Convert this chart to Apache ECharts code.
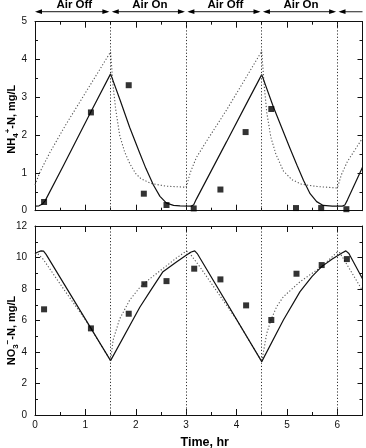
<!DOCTYPE html>
<html><head><meta charset="utf-8">
<script src="https://cdn.jsdelivr.net/npm/echarts@6/dist/echarts.min.js"></script>
<style>html,body{margin:0;padding:0;background:#fff}#c{width:366px;height:448px}</style>
</head><body><div id="c"></div>
<script>
// ---- data ----
const phaseNames = ['Air Off', 'Air On', 'Air Off', 'Air On'];
const phaseBounds = [0, 1.5, 3, 4.5, 6, 6.5];
const switchTimes = [1.5, 3, 4.5, 6];

const nh4Measured = [[0.18,0.23],[1.11,2.6],[1.86,3.32],[2.16,0.45],[2.61,0.15],[3.15,0.06],[3.68,0.56],[4.18,2.08],[4.69,2.69],[5.18,0.07],[5.68,0.07],[6.18,0.04]];
const nh4ModelSolid = [[0,0.12],[0.08,0.13],[0.14,0.17],[0.2,0.26],[0.56,1.18],[1.11,2.62],[1.5,3.62],[1.69,2.92],[1.88,2.2],[2.08,1.52],[2.2,1.12],[2.35,0.68],[2.48,0.38],[2.61,0.2],[2.75,0.14],[2.88,0.13],[3.1,0.12],[3.15,0.16],[3.2,0.3],[3.8,1.82],[4.2,2.84],[4.5,3.6],[4.73,2.75],[5.06,1.65],[5.2,1.2],[5.33,0.8],[5.46,0.45],[5.59,0.24],[5.72,0.14],[5.9,0.12],[6.1,0.12],[6.15,0.15],[6.2,0.28],[6.5,1.15]];
const nh4ModelDotted = [[0,0.68],[0.1,1.03],[0.3,1.55],[0.6,2.25],[0.9,2.9],[1.2,3.55],[1.5,4.2],[1.55,3.3],[1.6,2.7],[1.68,2.0],[1.78,1.55],[1.88,1.25],[2.0,0.98],[2.1,0.85],[2.3,0.72],[2.6,0.65],[3.0,0.62],[3.08,1.0],[3.2,1.4],[3.4,1.83],[3.8,2.66],[4.2,3.55],[4.5,4.22],[4.55,3.3],[4.6,2.6],[4.68,1.95],[4.78,1.5],[4.93,1.05],[5.1,0.82],[5.29,0.7],[5.6,0.64],[6.0,0.6],[6.08,0.95],[6.2,1.3],[6.5,1.92]];

const no3Measured = [[0.18,6.71],[1.11,5.5],[1.86,6.43],[2.17,8.3],[2.61,8.5],[3.16,9.29],[3.68,8.61],[4.19,6.96],[4.69,6.03],[5.19,8.97],[5.69,9.52],[6.19,9.9]];
const no3ModelSolid = [[0,10.25],[0.06,10.35],[0.12,10.42],[0.17,10.4],[0.22,10.2],[1.5,3.45],[2.08,6.84],[2.28,7.83],[2.54,9.1],[2.8,9.7],[3.0,10.15],[3.1,10.35],[3.17,10.42],[3.22,10.25],[4.5,3.39],[4.93,6.03],[5.26,7.83],[5.5,8.8],[5.69,9.42],[5.9,9.9],[6.1,10.3],[6.17,10.42],[6.23,10.25],[6.5,8.65]];
const no3ModelDotted = [[0,10.2],[0.05,10.25],[0.16,9.9],[0.6,7.85],[1.0,6.05],[1.5,3.45],[1.55,4.76],[1.68,6.1],[1.88,7.3],[2.08,8.1],[2.28,8.65],[2.54,9.3],[2.8,9.95],[3.0,10.4],[3.05,10.35],[3.27,9.42],[4.0,6.05],[4.5,3.4],[4.6,5.19],[4.69,6.1],[4.8,6.9],[4.93,7.51],[5.26,8.46],[5.69,9.42],[6.0,10.35],[6.05,10.3],[6.5,7.9]];

// ---- chart ----
const FONT = "'Liberation Sans', Arial, Helvetica, sans-serif";
const INK = '#111';
const chart = echarts.init(document.getElementById('c'), null, {renderer: 'canvas'});

function xAx(gridIndex, position, labels) {
  return {
    type: 'value', gridIndex, position, min: 0, max: 6.5, interval: 1,
    axisLine: {show: true, onZero: false, lineStyle: {color: INK, width: 1}},
    axisTick: {show: true, inside: true, length: 6, lineStyle: {color: INK, width: 1}},
    minorTick: {show: true, splitNumber: 2, length: 3, lineStyle: {color: INK, width: 1}},
    axisLabel: {show: labels, showMaxLabel: false, color: INK, fontSize: 10, margin: 5, fontFamily: FONT},
    splitLine: {show: false}
  };
}
function yAx(gridIndex, position, max, interval, labels) {
  return {
    type: 'value', gridIndex, position, min: 0, max, interval,
    axisLine: {show: true, onZero: false, lineStyle: {color: INK, width: 1}},
    axisTick: {show: true, inside: true, length: 5, lineStyle: {color: INK, width: 1}},
    minorTick: {show: true, splitNumber: 2, length: 3, lineStyle: {color: INK, width: 1}},
    axisLabel: {show: labels, color: INK, fontSize: 10, margin: 8, fontFamily: FONT},
    splitLine: {show: false}
  };
}
const vLines = {
  silent: true, symbol: ['none', 'none'], label: {show: false},
  lineStyle: {type: [1.2, 2], color: '#333', width: 1},
  emphasis: {disabled: true},
  data: switchTimes.map(t => ({xAxis: t}))
};
const solidStyle = {color: INK, width: 1.2, type: 'solid'};
const dotStyle = {color: '#555', width: 1.1, type: [1.2, 2]};

chart.setOption({
  animation: false,
  backgroundColor: '#fff',
  grid: [
    {left: 35, right: 3.5, top: 21.7, height: 189, outerBoundsMode: 'none', containLabel: false},
    {left: 35, right: 3.5, top: 226, height: 189, outerBoundsMode: 'none', containLabel: false}
  ],
  xAxis: [xAx(0, 'bottom', false), xAx(0, 'top', false), xAx(1, 'bottom', true), xAx(1, 'top', false)],
  yAxis: [yAx(0, 'left', 5, 1, true), yAx(0, 'right', 5, 1, false), yAx(1, 'left', 12, 2, true), yAx(1, 'right', 12, 2, false)],
  series: [
    {type: 'line', xAxisIndex: 0, yAxisIndex: 0, data: nh4ModelDotted, showSymbol: false, symbol: 'none', lineStyle: dotStyle, clip: true},
    {type: 'line', xAxisIndex: 0, yAxisIndex: 0, data: nh4ModelSolid, showSymbol: false, symbol: 'none', lineStyle: solidStyle, clip: true, markLine: vLines},
    {type: 'scatter', xAxisIndex: 0, yAxisIndex: 0, data: nh4Measured, symbol: 'rect', symbolSize: 6, itemStyle: {color: '#000'}, z: 5},
    {type: 'line', xAxisIndex: 2, yAxisIndex: 2, data: no3ModelDotted, showSymbol: false, symbol: 'none', lineStyle: dotStyle, clip: true},
    {type: 'line', xAxisIndex: 2, yAxisIndex: 2, data: no3ModelSolid, showSymbol: false, symbol: 'none', lineStyle: solidStyle, clip: true, markLine: vLines},
    {type: 'scatter', xAxisIndex: 2, yAxisIndex: 2, data: no3Measured, symbol: 'rect', symbolSize: 6, itemStyle: {color: '#000'}, z: 5}
  ]
});

// ---- annotations derived from axis scales ----
const gx = v => chart.convertToPixel({xAxisIndex: 0}, v);
const topY = chart.convertToPixel({yAxisIndex: 0}, 5);
const topMid = chart.convertToPixel({yAxisIndex: 0}, 2.5);
const botMid = chart.convertToPixel({yAxisIndex: 2}, 6);
const botY0 = chart.convertToPixel({yAxisIndex: 2}, 0);
const arrowY = topY - 10;
const HL = 7, HW = 2.4, GAP = 1.2;
const g = [];
for (let i = 0; i < phaseBounds.length - 1; i++) {
  const a = gx(phaseBounds[i]) + (i === 0 ? 0 : GAP);
  const last = i === phaseBounds.length - 2;
  const b = last ? gx(phaseBounds[i + 1]) : gx(phaseBounds[i + 1]) - GAP;
  g.push({type: 'line', shape: {x1: a + 2, y1: arrowY, x2: last ? b : b - 2, y2: arrowY}, style: {stroke: '#444', lineWidth: 1.2}});
  g.push({type: 'polygon', shape: {points: [[a, arrowY], [a + HL, arrowY - HW], [a + HL, arrowY + HW]]}, style: {fill: '#000'}});
  if (!last) {
    g.push({type: 'polygon', shape: {points: [[b, arrowY], [b - HL, arrowY - HW], [b - HL, arrowY + HW]]}, style: {fill: '#000'}});
  }
  if (i < phaseNames.length) {
    g.push({type: 'text', x: (gx(phaseBounds[i]) + gx(phaseBounds[i + 1])) / 2 + 1.5, y: arrowY - 7,
      style: {text: phaseNames[i], font: 'bold 11.5px ' + FONT, fill: '#000', align: 'center', verticalAlign: 'middle'}});
  }
}
const richY = {
  a: {fontSize: 11, fontWeight: 'bold', fontFamily: FONT, lineHeight: 16, fill: '#000', color: '#000'},
  s: {fontSize: 8, fontWeight: 'bold', fontFamily: FONT, lineHeight: 8, verticalAlign: 'bottom', fill: '#000', color: '#000'},
  p: {fontSize: 8, fontWeight: 'bold', fontFamily: FONT, lineHeight: 8, verticalAlign: 'top', fill: '#000', color: '#000'}
};
g.push({type: 'text', x: 12, y: topMid + 3, rotation: Math.PI / 2,
  style: {text: '{a|NH}{s|4}{p|+}{a|-N, mg/L}', rich: richY, align: 'center', verticalAlign: 'middle', fill: '#000'}});
g.push({type: 'text', x: 12, y: botMid + 10, rotation: Math.PI / 2,
  style: {text: '{a|NO}{s|3}{p|\u2212}{a|-N, mg/L}', rich: richY, align: 'center', verticalAlign: 'middle', fill: '#000'}});
g.push({type: 'text', x: (gx(0) + gx(6.5)) / 2 + 6, y: botY0 + 28,
  style: {text: 'Time, hr', font: 'bold 12.5px ' + FONT, fill: '#000', align: 'center', verticalAlign: 'middle'}});
chart.setOption({graphic: g});
</script>
</body></html>
